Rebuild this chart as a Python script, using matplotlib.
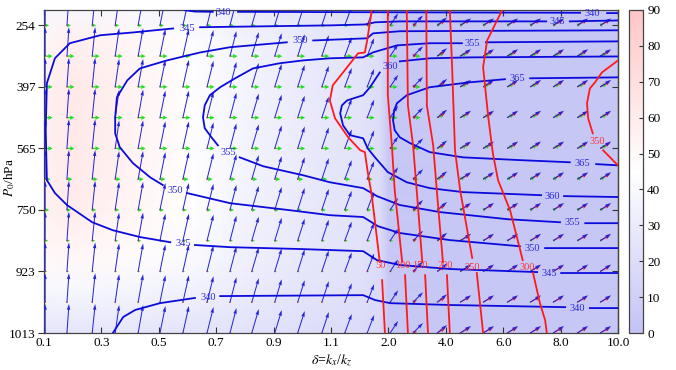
import numpy as np
import matplotlib
matplotlib.use("Agg")
import matplotlib.pyplot as plt
from matplotlib.colors import LinearSegmentedColormap, Normalize

plt.rcParams.update({
    "font.family": ["Liberation Serif", "DejaVu Serif"],
    "mathtext.fontset": "stix",
    "font.size": 9.5,
})

nan = np.nan
BLUE, RED, GREEN = "#0b0bdc", "#ff1a1a", "#22dd22"
ARROW_BLUE, ARROW_RED = "#2424d6", "#ee2030"

# axes: both axes are index axes (equal spacing between labelled values)
X_TICK_LABELS = ["0.1", "0.3", "0.5", "0.7", "0.9", "1.1", "2.0", "4.0", "6.0", "8.0", "10.0"]
Y_TICK_ROWS = [0, 2, 4, 6, 8, 10]
Y_TICK_LABELS = ["254", "397", "565", "750", "923", "1013"]

# background field (coarse grid)
BG_X = [0, 0.5, 1.5, 2.5, 3.5, 4.5, 5.5, 5.85, 6.0, 10]
BG_Y = [-0.5, 0.5, 2, 4, 6, 7.5, 8.5, 10]
BG_VAL = [
    [38, 40, 40, 36, 30, 25, 20, 17, 4, 3],
    [52, 58, 52, 44, 36, 30, 24, 20, 4, 3],
    [56, 62, 55, 46, 37, 30, 24, 20, 4, 3],
    [56, 62, 55, 46, 37, 30, 24, 20, 4, 3],
    [55, 60, 53, 45, 36, 29, 23, 20, 4, 3],
    [50, 52, 48, 42, 34, 28, 23, 19, 4, 3],
    [40, 40, 38, 36, 31, 26, 22, 18, 4, 3],
    [26, 26, 26, 25, 23, 21, 19, 17, 4, 3],
]

# arrow grid
COL_POS = [0.02, 0.40, 0.84, 1.24, 1.64, 2.02, 2.42, 2.84, 3.24, 3.62, 4.02, 4.42, 4.84,
           5.24, 5.63, 6.03, 6.43, 6.85, 7.25, 7.65, 8.07, 8.47, 8.87, 9.29, 9.69]
ROW_POS = [0, 1, 2, 3, 4, 5, 6, 7, 8, 9, 10]
BLUE_U = [0, 2, 3, 4, 5, 5.5, 6, 6.5, 6.5, 7, 7, 7, 7, 7, 7, 8, 10, 10, 11, 11, 11, 11, 11, 11, 11]
BLUE_V = [29, 29, 29, 28, 28, 27, 27, 26, 25, 24, 23, 22, 21, 19, 18, 12, 10, 8, 7, 7, 7, 7, 7, 7, 7]
RED_U = [0.3, 0.3, 0.3, 0.3, 0.3, 0.3, 0.3, 0.3, 0.3, 0.3, 0.3, 0.3, 0.3, 0.3, 0.3,
         1, 4, 8, 10, 10, 10, 10, 10, 10, 10]
RED_V = [0, 0, 0, 0, 0, 0, 0, 0, 0, 0, 0, 0, 0, 0, 0,
         0.5, 2, 5, 5.5, 5.5, 5.5, 5.5, 5.5, 5.5, 5.5]
GREEN_ANGLE = [0, 0, 0, 0, 0, 0, 0, 0, 0, 0, 0, 0, 0, 0, 0, 0, 0,
               25, 25, 25, 25, 25, 25, 25, 25]
GREEN_ROW_LEN = [4, 7.5, 7.5, 7.5, 7.5, 5.5, 4, 3, 2, 0.8, 0]

# blue contours (x in axis index units, y in level rows), nan = label gap
B340_X = [2.46, 2.63, 2.94, nan, 3.38, 7.07, 9.34, nan, 9.81, 10, nan,
          1.20, 1.29, 1.38, 1.59, 2.02, 2.63, nan, 3.07, 5.56, 5.77, 6.03, 7.07, 9.08, nan, 9.51, 10]
B340_Y = [-0.49, -0.45, -0.44, nan, -0.44, -0.42, -0.41, nan, -0.40, -0.40, nan,
          10, 9.74, 9.48, 9.25, 9.03, 8.86, nan, 8.80, 8.77, 8.93, 9.03, 9.09, 9.16, nan, 9.19, 9.19]
B345_X = [10, 9.16, nan, 8.75, 6.20, 5.77, 5.59, 4.98, 2.72, nan, 2.25, 1.55, 0.98, 0.45, 0.19,
          0.05, 0.03, 0.05, 0.19, 0.40, 0.84, 1.20, 1.67, 2.20, nan, 2.63, 3.24, 4.46, 5.56,
          5.80, 6.20, 7.07, 8.59, nan, 9.01, 10]
B345_Y = [-0.16, -0.13, nan, -0.13, -0.13, -0.10, -0.03, 0, 0.06, nan, 0.10, 0.23, 0.32, 0.58, 1.07,
          1.88, 3.41, 5.03, 5.45, 5.84, 6.40, 6.66, 6.88, 7.05, nan, 7.14, 7.21, 7.27, 7.34,
          7.63, 7.79, 7.92, 8.02, nan, 8.05, 8.05]
B350_X = [10, 6.20, 5.73, 5.63, 4.69, nan, 4.23, 3.24, 2.72, 2.14, 1.67, 1.45, 1.27, 1.24, 1.24,
          1.32, 1.55, 1.85, 2.07, nan, 2.49, 3.24, 4.29, 4.98, 5.56, 5.82, 6.20, 7.07, 8.29,
          nan, 8.73, 10]
B350_Y = [0.16, 0.19, 0.26, 0.42, 0.49, nan, 0.55, 0.71, 0.88, 1.14, 1.40, 1.79, 2.34, 2.99, 3.51,
          3.96, 4.48, 4.94, 5.19, nan, 5.45, 5.78, 6.01, 6.17, 6.23, 6.53, 6.75, 6.98, 7.18,
          nan, 7.24, 7.24]
B355_X = [10, 7.70, nan, 7.28, 6.72, 6.15, 5.73, 5.56, 4.98, 4.51, 4.11, 3.64, 3.33, 3.07, 2.89,
          2.80, 2.77, 2.80, 2.93, 3.03, nan, 3.41, 3.82, 4.51, 4.98, 5.56, 5.80, 6.20, 6.90,
          8.07, 8.99, nan, 9.43, 10]
B355_Y = [0.52, 0.55, nan, 0.58, 0.58, 0.65, 0.88, 1.04, 1.07, 1.14, 1.23, 1.40, 1.72, 2.01, 2.27,
          2.60, 2.99, 3.34, 3.67, 3.90, nan, 4.29, 4.58, 4.87, 5.10, 5.29, 5.55, 5.84, 6.07,
          6.30, 6.40, nan, 6.43, 6.43]
B360_X = [10, 7.42, 6.72, 6.20, nan, 5.85, 5.68, 5.56, 5.28, 5.19, 5.16, 5.21, 5.33, 5.56, 5.64,
          5.78, 5.99, 6.32, 6.72, 7.30, 8.66, nan, 9.06, 10]
B360_Y = [1.01, 1.04, 1.07, 1.17, nan, 1.53, 2.01, 2.27, 2.44, 2.60, 2.86, 3.25, 3.57, 3.67, 4.00,
          4.32, 4.77, 5.10, 5.29, 5.42, 5.52, nan, 5.55, 5.58]
B365_X = [10, 8.47, nan, 8.03, 7.42, 6.72, 6.32, 6.15, 6.10, 6.08, 6.11, 6.20, 6.38, 6.72, 7.30,
          8.29, 9.16, nan, 9.62, 10]
B365_Y = [1.69, 1.72, nan, 1.75, 1.85, 2.01, 2.27, 2.53, 2.76, 3.08, 3.41, 3.64, 3.83, 4.12, 4.29,
          4.38, 4.45, nan, 4.51, 4.55]
BLUE_LABEL_TXT = ["340", "340", "340", "340", "345", "345", "345", "345", "350", "350", "350",
                  "355", "355", "355", "360", "360", "365", "365"]
BLUE_LABEL_X = [3.12, 9.56, 2.86, 9.29, 8.95, 2.49, 2.42, 8.80, 4.46, 2.28, 8.50,
                7.47, 3.21, 9.20, 6.03, 8.85, 8.24, 9.37]
BLUE_LABEL_Y = [-0.42, -0.39, 8.83, 9.19, -0.13, 0.10, 7.08, 8.05, 0.49, 5.36, 7.24,
                0.58, 4.12, 6.40, 1.33, 5.55, 1.72, 4.48]

# red contours
R50_X = [5.71, 5.63, 5.59, 5.47, 5.21, 5.03, 4.98, 5.07, 5.30, 5.51, 5.59, 5.64, 5.71, 5.85, nan, 5.89, 5.94]
R50_Y = [-0.49, 0.49, 0.88, 0.91, 1.53, 1.95, 2.44, 3.02, 3.64, 4.06, 4.12, 4.77, 5.52, 7.69, nan, 8.28, 10]
R100_X = [5.99, 5.99, 6.06, 6.11, 6.24, nan, 6.29, 6.34]
R100_Y = [-0.49, 2.27, 3.90, 5.36, 7.69, nan, 8.12, 10]
R150_X = [6.32, 6.34, 6.43, 6.50, 6.59, nan, 6.64, 6.69]
R150_Y = [-0.49, 2.60, 3.90, 5.52, 7.69, nan, 8.12, 10]
R200_X = [6.66, 6.67, 6.78, 6.85, 6.95, nan, 7.02, 7.07]
R200_Y = [-0.49, 2.60, 3.90, 5.52, 7.69, nan, 8.12, 10]
R250_X = [7.07, 7.11, 7.16, 7.25, 7.46, nan, 7.54, 7.65]
R250_Y = [-0.49, 1.36, 4.06, 5.36, 7.56, nan, 8.05, 10]
R300_X = [7.98, 7.72, 7.65, 7.74, 7.82, 7.91, 8.12, 8.34, nan, 8.52, 8.64, 8.73, 8.76]
R300_Y = [-0.49, 0.49, 1.36, 2.99, 4.16, 5.03, 6.01, 7.63, nan, 8.05, 9.03, 9.58, 10]
R350_X = [10, 9.72, 9.60, 9.51, 9.46, 9.48, 9.56, nan, 9.74, 10]
R350_Y = [1.14, 1.53, 1.85, 2.05, 2.53, 3.02, 3.51, nan, 4.06, 4.55]
RED_LABEL_TXT = ["50", "100", "150", "200", "250", "300", "350"]
RED_LABEL_X = [5.87, 6.25, 6.55, 6.99, 7.47, 8.41, 9.63]
RED_LABEL_Y = [7.82, 7.82, 7.82, 7.82, 7.86, 7.86, 3.77]

fig = plt.figure(figsize=(6.76, 3.70), dpi=100)
ax = fig.add_axes([44 / 676, 37 / 370, 574 / 676, 323 / 370])

cmap = LinearSegmentedColormap.from_list(
    "lav_white_pink", [(0, "#c3c3f5"), (0.5, "#ffffff"), (1, "#ffc6c6")])
norm = Normalize(0, 90)
gx, gy = np.meshgrid(BG_X, BG_Y)
mesh = ax.pcolormesh(gx, gy, np.array(BG_VAL, float), cmap=cmap, norm=norm,
                     shading="gouraud", zorder=0)

# vector fields
px, py = np.meshgrid(COL_POS, ROW_POS)
ones = np.ones((len(ROW_POS), 1))
ang = np.deg2rad(np.array(GREEN_ANGLE))
glen = np.array(GREEN_ROW_LEN)[:, None]
qkw = dict(angles="uv", scale_units="dots", scale=1, units="dots", pivot="tail")
ax.quiver(px, py, glen * np.cos(ang)[None, :], glen * np.sin(ang)[None, :],
          color=GREEN, width=1.3, headwidth=3.5, headlength=3.5, headaxislength=3,
          zorder=2, **qkw)
ax.quiver(px, py, ones * np.array(RED_U), ones * np.array(RED_V),
          color=ARROW_RED, width=1.0, headwidth=4, headlength=5, headaxislength=4.5,
          minlength=1.5, zorder=3, **qkw)
ax.quiver(px, py, ones * np.array(BLUE_U), ones * np.array(BLUE_V),
          color=ARROW_BLUE, width=1.0, headwidth=3.5, headlength=6, headaxislength=5.5,
          zorder=4, **qkw)

# contours
for xs, ys in [(B340_X, B340_Y), (B345_X, B345_Y), (B350_X, B350_Y),
               (B355_X, B355_Y), (B360_X, B360_Y), (B365_X, B365_Y)]:
    ax.plot(xs, ys, color=BLUE, lw=1.3, zorder=5, solid_joinstyle="round")
for t, x, y in zip(BLUE_LABEL_TXT, BLUE_LABEL_X, BLUE_LABEL_Y):
    ax.text(x, y, t, color="#2a2ad8", fontsize=7.5, ha="center", va="center", zorder=6)
for xs, ys in [(R50_X, R50_Y), (R100_X, R100_Y), (R150_X, R150_Y), (R200_X, R200_Y),
               (R250_X, R250_Y), (R300_X, R300_Y), (R350_X, R350_Y)]:
    ax.plot(xs, ys, color=RED, lw=1.3, zorder=5)
for t, x, y in zip(RED_LABEL_TXT, RED_LABEL_X, RED_LABEL_Y):
    ax.text(x, y, t, color="#ff3333", fontsize=7.5, ha="center", va="center", zorder=6)

ax.set_xlim(0, 10)
ax.set_ylim(10, -0.5)
ax.set_xticks(range(len(X_TICK_LABELS)))
ax.set_xticklabels(X_TICK_LABELS)
ax.set_yticks(Y_TICK_ROWS)
ax.set_yticklabels(Y_TICK_LABELS)
ax.tick_params(axis="x", direction="in", top=True, length=4, pad=3, color="#333333")
ax.tick_params(axis="y", direction="out", length=4, pad=2, color="#333333")
sec = ax.secondary_yaxis("right")
sec.set_yticks(Y_TICK_ROWS)
sec.set_yticklabels([])
sec.tick_params(direction="in", length=4, color="#333333")
for s in list(ax.spines.values()) + list(sec.spines.values()):
    s.set_color("#444444")
    s.set_linewidth(0.9)
ax.set_xlabel(r"$\delta$=$k_x$/$k_z$", fontsize=10, labelpad=2)
ax.set_ylabel(r"$P_0$/hPa", fontsize=9.5)
ax.yaxis.set_label_coords(-0.047, 0.48)

cax = fig.add_axes([629 / 676, 37 / 370, 14 / 676, 323 / 370])
cb = fig.colorbar(mesh, cax=cax, ticks=range(0, 91, 10))
cb.outline.set_edgecolor("#444444")
cb.outline.set_linewidth(0.9)
cax.tick_params(direction="in", length=3, pad=3, color="#333333")

fig.savefig("out.png", dpi=100)
